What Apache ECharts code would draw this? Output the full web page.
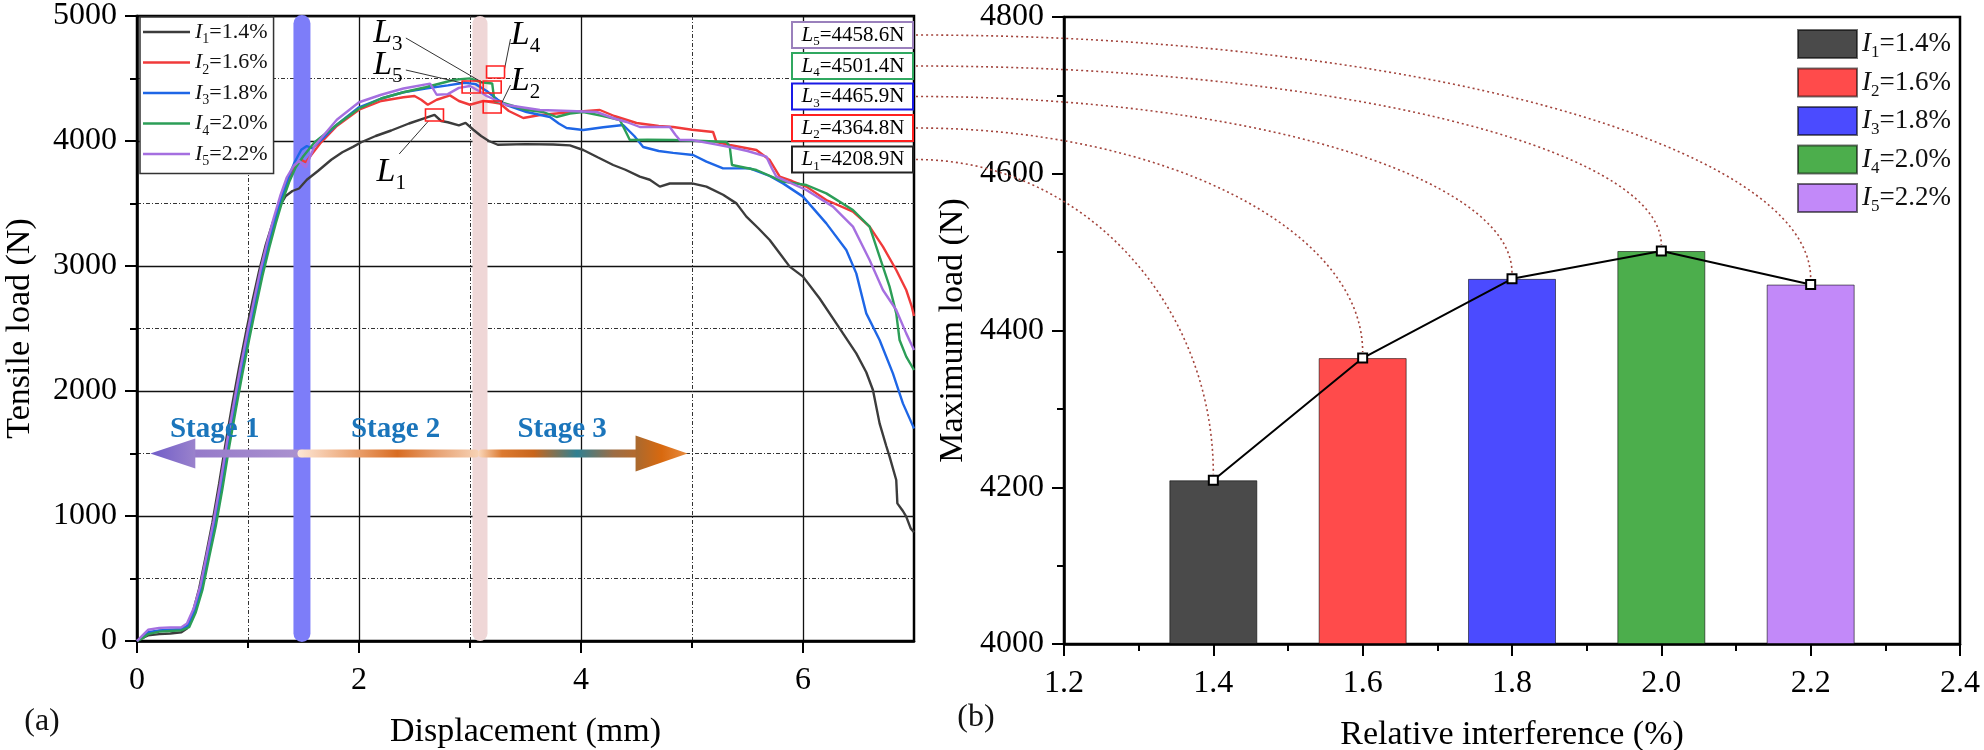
<!DOCTYPE html>
<html><head><meta charset="utf-8">
<script src="https://cdn.jsdelivr.net/npm/echarts/dist/echarts.min.js"></script>
<style>html,body{margin:0;padding:0;background:#fff}#c{width:1984px;height:750px}</style>
</head><body><div id="c"></div><script>
// ---------- DATA ----------
// (a) tensile curves: [displacement mm, load N]
const curveI1 = [[0,0],[0.05,25],[0.1,45],[0.2,55],[0.3,60],[0.4,70],[0.45,100],[0.5,220],[0.56,420],[0.62,680],[0.68,950],[0.74,1260],[0.8,1590],[0.86,1900],[0.92,2190],[0.98,2460],[1.04,2720],[1.1,2960],[1.16,3170],[1.22,3340],[1.28,3470],[1.34,3560],[1.4,3600],[1.46,3620],[1.53,3690],[1.63,3760],[1.75,3850],[1.85,3910],[1.95,3955],[2.02,3990],[2.15,4040],[2.29,4084],[2.45,4140],[2.6,4185],[2.68,4209],[2.74,4160],[2.8,4150],[2.9,4125],[2.96,4145],[3.03,4090],[3.1,4040],[3.17,4000],[3.25,3970],[3.5,3975],[3.75,3972],[3.9,3965],[4.02,3928],[4.15,3870],[4.29,3808],[4.4,3770],[4.53,3715],[4.62,3690],[4.71,3635],[4.8,3660],[5.0,3661],[5.13,3635],[5.28,3570],[5.4,3501],[5.49,3395],[5.6,3300],[5.7,3208],[5.8,3090],[5.88,2995],[6.0,2915],[6.15,2740],[6.3,2541],[6.48,2301],[6.57,2150],[6.63,2008],[6.69,1741],[6.75,1560],[6.78,1475],[6.84,1288],[6.85,1101],[6.9,1040],[6.93,995],[6.97,901],[7.0,870]];
const curveI2 = [[0,0],[0.05,30],[0.1,65],[0.2,80],[0.3,85],[0.4,90],[0.46,120],[0.52,240],[0.58,420],[0.64,680],[0.7,930],[0.76,1230],[0.82,1560],[0.88,1860],[0.94,2150],[1.0,2420],[1.06,2680],[1.12,2930],[1.18,3150],[1.24,3350],[1.3,3530],[1.36,3680],[1.42,3790],[1.48,3850],[1.52,3830],[1.58,3900],[1.65,3980],[1.8,4120],[2.0,4250],[2.2,4320],[2.4,4350],[2.5,4360],[2.56,4330],[2.62,4290],[2.7,4330],[2.82,4365],[2.9,4320],[3.0,4290],[3.12,4320],[3.2,4310],[3.27,4300],[3.35,4240],[3.48,4184],[3.63,4208],[3.9,4230],[4.17,4248],[4.3,4200],[4.5,4144],[4.7,4120],[4.83,4112],[5.0,4090],[5.19,4072],[5.22,3992],[5.34,3968],[5.58,3928],[5.7,3848],[5.79,3715],[5.9,3680],[6.03,3635],[6.21,3528],[6.45,3435],[6.6,3315],[6.72,3155],[6.84,2968],[6.93,2808],[6.98,2675],[7.0,2600]];
const curveI3 = [[0,0],[0.05,35],[0.1,70],[0.2,85],[0.3,90],[0.4,95],[0.46,125],[0.52,245],[0.58,425],[0.64,690],[0.7,940],[0.76,1240],[0.82,1570],[0.88,1870],[0.94,2160],[1.0,2430],[1.06,2690],[1.12,2940],[1.18,3160],[1.24,3360],[1.3,3540],[1.36,3700],[1.42,3830],[1.48,3930],[1.53,3960],[1.58,3940],[1.65,4000],[1.8,4130],[2.0,4270],[2.2,4340],[2.4,4390],[2.6,4420],[2.8,4445],[2.95,4466],[3.05,4455],[3.15,4400],[3.25,4330],[3.33,4288],[3.51,4232],[3.72,4192],[3.8,4140],[3.87,4104],[4.02,4088],[4.2,4110],[4.38,4128],[4.48,4040],[4.56,3952],[4.7,3920],[4.83,3905],[5.01,3888],[5.13,3835],[5.28,3781],[5.52,3781],[5.7,3720],[5.82,3661],[6.0,3555],[6.21,3341],[6.39,3128],[6.48,2941],[6.57,2621],[6.69,2408],[6.81,2141],[6.9,1901],[6.98,1741],[7.0,1700]];
const curveI4 = [[0,0],[0.05,20],[0.1,55],[0.2,75],[0.3,80],[0.4,85],[0.47,110],[0.53,230],[0.59,410],[0.65,670],[0.71,920],[0.77,1220],[0.83,1550],[0.89,1850],[0.95,2140],[1.01,2410],[1.07,2670],[1.13,2920],[1.19,3140],[1.25,3340],[1.31,3520],[1.37,3670],[1.43,3790],[1.5,3880],[1.6,3990],[1.8,4130],[2.0,4260],[2.2,4340],[2.4,4390],[2.6,4430],[2.86,4490],[3.0,4501],[3.1,4470],[3.2,4460],[3.22,4320],[3.27,4312],[3.5,4250],[3.66,4232],[3.78,4192],[3.9,4220],[4.02,4232],[4.2,4200],[4.35,4168],[4.4,4080],[4.44,4008],[4.6,4010],[4.83,4008],[5.1,4000],[5.31,3992],[5.34,3955],[5.36,3808],[5.58,3768],[5.82,3675],[6.03,3648],[6.21,3581],[6.45,3448],[6.6,3315],[6.69,3075],[6.78,2835],[6.84,2621],[6.87,2408],[6.93,2275],[7.0,2168]];
const curveI5 = [[0,0],[0.05,45],[0.1,90],[0.2,105],[0.3,108],[0.4,110],[0.45,140],[0.51,260],[0.57,440],[0.63,700],[0.69,960],[0.75,1260],[0.81,1590],[0.87,1890],[0.93,2180],[0.99,2450],[1.05,2710],[1.11,2960],[1.17,3180],[1.23,3380],[1.29,3560],[1.35,3710],[1.41,3800],[1.46,3840],[1.52,3790],[1.6,3960],[1.8,4170],[2.0,4310],[2.2,4370],[2.4,4420],[2.64,4459],[2.7,4370],[2.8,4375],[2.9,4425],[3.0,4440],[3.08,4400],[3.15,4360],[3.33,4288],[3.63,4248],[3.9,4240],[4.14,4232],[4.3,4180],[4.41,4152],[4.53,4112],[4.8,4112],[4.85,4050],[4.89,4008],[5.0,4008],[5.2,3975],[5.34,3952],[5.5,3920],[5.67,3875],[5.72,3780],[5.76,3715],[6.03,3608],[6.27,3475],[6.45,3315],[6.6,3048],[6.72,2808],[6.84,2648],[6.93,2461],[7.0,2328]];
const curveIdx = ['1','2','3','4','5'];
const interference = [1.4, 1.6, 1.8, 2.0, 2.2];          // %
const interferenceText = ['1.4%','1.6%','1.8%','2.0%','2.2%'];
const maxLoad = [4208.9, 4364.8, 4465.9, 4501.4, 4458.6]; // N
const maxLoadText = ['4208.9N','4364.8N','4465.9N','4501.4N','4458.6N'];
const stageNames = ['Stage 1','Stage 2','Stage 3'];
const xTicksA = [0,2,4,6];
const xMinorA = [1,3,5];

// ---------- STYLE / LAYOUT ----------
const F = 'Liberation Serif';
const lineColors = ['#3c3c3c','#f03a3a','#1e66e6','#2c9e57','#a56fe0'];
const barColors = ['#4a4a4a','#ff4b4b','#4b4bff','#4cae4c','#c289f9'];
const boxBorder = ['#222222','#ff2020','#1a1ae6','#30a860','#9a80bc'];
const bandBlueX = 1.486, bandPinkX = 3.09;
const markBox = [[2.68,4208],[3.2,4272],[3.2,4432],[3.23,4552],[3.01,4432]];   // annotation boxes (mm,N)
const markLabel = [[2.29,3752],[3.5,4480],[2.26,4864],[3.5,4848],[2.26,4608]]; // label centres (mm,N)
const infoBoxN = [3852,4104,4356,4600,4848]; // centre of L1..L5 info boxes (N)
const stagePos = [[0.7,1690],[2.33,1690],[3.83,1690]];

function rich(size, color){
  const lh = Math.round(size*1.3);
  return {
    i:{fontFamily:F, fontStyle:'italic', fontSize:size, color:color, lineHeight:lh, verticalAlign:'middle'},
    s:{fontFamily:F, fontSize:Math.round(size*0.62), color:color, lineHeight:lh, verticalAlign:'bottom'},
    t:{fontFamily:F, fontSize:size, color:color, lineHeight:lh, verticalAlign:'middle'}
  };
}

const chart = echarts.init(document.getElementById('c'));

const series = [];
series.push({type:'line', xAxisIndex:0, yAxisIndex:0, data:[[bandBlueX,60],[bandBlueX,4940]], symbol:'none', silent:true, z:1,
  lineStyle:{color:'#7d7df9', width:17, cap:'round'}});
series.push({type:'line', xAxisIndex:0, yAxisIndex:0, data:[[bandPinkX,60],[bandPinkX,4940]], symbol:'none', silent:true, z:1,
  lineStyle:{color:'#efd7d7', width:15, cap:'round'}});
[curveI1,curveI2,curveI3,curveI4,curveI5].forEach((d,i)=>{
  series.push({name:'A'+i, type:'line', xAxisIndex:0, yAxisIndex:0, data:d, symbol:'none', z:3,
    lineStyle:{color:lineColors[i], width:2.4}, itemStyle:{color:lineColors[i]}});
});
interference.forEach((x,i)=>{
  series.push({name:'B'+i, type:'bar', xAxisIndex:2, yAxisIndex:1, data:[[x,maxLoad[i]]], barWidth:88, barGap:'-100%',
    itemStyle:{color:barColors[i], borderColor:'rgba(0,0,0,0.55)', borderWidth:1}});
});
series.push({type:'line', xAxisIndex:2, yAxisIndex:1, data:interference.map((x,i)=>[x,maxLoad[i]]), z:6,
  symbol:'rect', symbolSize:9, lineStyle:{color:'#000', width:2},
  itemStyle:{color:'#fff', borderColor:'#000', borderWidth:2}});

const numRich = {a:{fontFamily:F, fontSize:32, color:'#000'}};
const baseLbl = {fontFamily:F, fontSize:32, color:'#000', rich:numRich};
const lblX = Object.assign({margin:24, formatter:v=>'{a|'+v+'}'}, baseLbl);
const lblY = Object.assign({margin:20, formatter:v=>'{a|'+v+'}'}, baseLbl);
const nameSty = {fontFamily:F, fontSize:34, color:'#000'};

const option = {
  animation:false,
  backgroundColor:'#fff',
  textStyle:{fontFamily:F},
  grid:[
    {left:137, top:16, width:777, height:625, show:true, borderColor:'#000', borderWidth:2.5, backgroundColor:'rgba(0,0,0,0)', outerBoundsMode:'none', containLabel:false},
    {left:1064, top:17, width:896, height:627, show:true, borderColor:'#000', borderWidth:2.5, backgroundColor:'rgba(0,0,0,0)', outerBoundsMode:'none', containLabel:false}
  ],
  xAxis:[
    {type:'value', gridIndex:0, min:0, max:7, interval:2, position:'bottom',
     name:'Displacement (mm)', nameLocation:'middle', nameGap:74, nameTextStyle:nameSty,
     axisLine:{onZero:false, lineStyle:{color:'#000', width:2.5}},
     axisTick:{length:12, customValues:xTicksA, lineStyle:{color:'#000', width:2}},
     axisLabel:Object.assign({customValues:xTicksA}, lblX),
     splitLine:{show:true, lineStyle:{color:'#111', width:1.3}}},
    {type:'value', gridIndex:0, min:0, max:7, interval:1, position:'bottom',
     axisLine:{show:false, onZero:false},
     axisTick:{length:7, customValues:xMinorA, lineStyle:{color:'#000', width:2}},
     axisLabel:{show:false},
     splitLine:{show:true, lineStyle:{color:'#333', width:1, type:[4,2,1,2]}}},
    {type:'value', gridIndex:1, min:1.2, max:2.4, interval:0.2, position:'bottom',
     name:'Relative interference (%)', nameLocation:'middle', nameGap:74, nameTextStyle:nameSty,
     axisLine:{onZero:false, lineStyle:{color:'#000', width:2.5}},
     axisTick:{length:12, lineStyle:{color:'#000', width:2}},
     minorTick:{show:true, splitNumber:2, length:7, lineStyle:{color:'#000', width:2}},
     axisLabel:Object.assign({margin:24, formatter:v=>'{a|'+v.toFixed(1)+'}'}, baseLbl),
     splitLine:{show:false}}
  ],
  yAxis:[
    {type:'value', gridIndex:0, min:0, max:5000, interval:1000,
     name:'Tensile load (N)', nameLocation:'middle', nameGap:100, nameTextStyle:nameSty,
     axisLine:{onZero:false, lineStyle:{color:'#000', width:2.5}},
     axisTick:{length:12, lineStyle:{color:'#000', width:2}},
     minorTick:{show:true, splitNumber:2, length:7, lineStyle:{color:'#000', width:2}},
     axisLabel:lblY,
     splitLine:{show:true, lineStyle:{color:'#111', width:1.3}},
     minorSplitLine:{show:true, lineStyle:{color:'#333', width:1, type:[4,2,1,2]}}},
    {type:'value', gridIndex:1, min:4000, max:4800, interval:200, startValue:4000,
     name:'Maximum load (N)', nameLocation:'middle', nameGap:94, nameTextStyle:nameSty,
     axisLine:{onZero:false, lineStyle:{color:'#000', width:2.5}},
     axisTick:{length:12, lineStyle:{color:'#000', width:2}},
     minorTick:{show:true, splitNumber:2, length:7, lineStyle:{color:'#000', width:2}},
     axisLabel:Object.assign({margin:20, formatter:v=>'{a|'+v+'}'}, baseLbl),
     splitLine:{show:false}}
  ],
  legend:[
    {orient:'vertical', left:140, top:17, data:curveIdx.map((c,i)=>'A'+i), selectedMode:false,
     icon:'rect', itemWidth:47, itemHeight:2.5, itemGap:5, padding:[4,6,5,3],
     borderColor:'#333', borderWidth:1.5, backgroundColor:'#fff',
     formatter:n=>{const i=+n.slice(1);return '{i|I}{s|'+curveIdx[i]+'}{t|='+interferenceText[i]+'}';},
     textStyle:{rich:rich(22,'#111')}},
    {orient:'vertical', left:1797, top:29, data:curveIdx.map((c,i)=>'B'+i), selectedMode:false, icon:'rect',
     itemWidth:59, itemHeight:28, itemGap:6, padding:0,
     formatter:n=>{const i=+n.slice(1);return '{i|I}{s|'+curveIdx[i]+'}{t|='+interferenceText[i]+'}';},
     textStyle:{rich:rich(27,'#111')}}
  ],
  series:series
};
chart.setOption(option);

// ---------- annotations (positions from the axes) ----------
const px0 = (x,y)=>chart.convertToPixel({xAxisIndex:0, yAxisIndex:0}, [x,y]);
const px1 = (x,y)=>chart.convertToPixel({xAxisIndex:2, yAxisIndex:1}, [x,y]);
const G = [];

// stage arrow at 1500 N
const yA = px0(0,1500)[1];
const xTipL = px0(0.12,0)[0], x15 = px0(1.5,0)[0], x31 = px0(3.1,0)[0], xTipR = px0(4.96,0)[0];
const lg = (stops)=>new echarts.graphic.LinearGradient(0,0,1,0, stops.map((c)=>({offset:c[0], color:c[1]})));
G.push({type:'rect', z:20, shape:{x:xTipL+40, y:yA-4, width:x15-xTipL-40, height:8},
  style:{fill:lg([[0,'#9479c9'],[1,'#ab92cf']])}});
G.push({type:'polygon', z:21, shape:{points:[[xTipL,yA],[xTipL+45,yA-15],[xTipL+45,yA+15]]},
  style:{fill:lg([[0,'#6f5cc8'],[1,'#9a82cc']])}});
G.push({type:'rect', z:21, shape:{x:x15-6, y:yA-4, width:x31-x15+4, height:8, r:4},
  style:{fill:lg([[0,'#fde7d6'],[0.3,'#eca676'],[0.55,'#d86c22'],[0.78,'#e8a476'],[1,'#f7d3b6']])}});
G.push({type:'rect', z:21, shape:{x:x31-3, y:yA-4, width:(xTipR-52)-(x31-3)+2, height:8, r:[4,0,0,4]},
  style:{fill:lg([[0,'#fbd9bd'],[0.15,'#dc7a30'],[0.35,'#c8651c'],[0.62,'#2f8092'],[0.85,'#9c6d45'],[1,'#b56a2c']])}});
G.push({type:'polygon', z:21, shape:{points:[[xTipR,yA],[xTipR-52,yA-18],[xTipR-52,yA+18]]},
  style:{fill:lg([[0,'#a9692f'],[0.5,'#d8690f'],[1,'#e88c40']])}});
stageNames.forEach((s,i)=>{
  const p = px0(stagePos[i][0], stagePos[i][1]);
  G.push({type:'text', z:22, x:p[0], y:p[1], style:{text:s, fill:'#1b75bb', font:'bold 29px "Liberation Serif"', align:'center', verticalAlign:'middle'}});
});

// red markers + labels + leader lines
const richRed = rich(34,'#ff1a1a');
markBox.forEach((b,i)=>{
  const c = px0(b[0],b[1]);
  G.push({type:'rect', z:25, shape:{x:c[0]-9, y:c[1]-6, width:18, height:12}, style:{fill:'none', stroke:'#ff2020', lineWidth:1.6}});
  const l = px0(markLabel[i][0], markLabel[i][1]);
  G.push({type:'text', z:25, x:l[0], y:l[1], style:{text:'{i|L}{s|'+curveIdx[i]+'}', rich:richRed, align:'center', verticalAlign:'middle'}});
  let a, e;
  if (i===0){ a=[l[0]+8, l[1]-18]; e=[c[0]-6, c[1]+6]; }
  else if (i===1 || i===3){ a=[l[0]-15, l[1]+4]; e=[c[0]+9, c[1]-3]; }
  else { a=[l[0]+18, l[1]+5]; e=[c[0]-9, c[1]-4]; }
  G.push({type:'line', z:24, shape:{x1:a[0], y1:a[1], x2:e[0], y2:e[1]}, style:{stroke:'#333', lineWidth:1}});
});

// info boxes on the right edge of (a) + dotted connectors to (b)
const xRight = px0(7,0)[0];
const richBox = rich(21,'#111');
maxLoad.forEach((v,i)=>{
  const yc = px0(0, infoBoxN[i])[1];
  G.push({type:'rect', z:26, shape:{x:xRight-122, y:yc-13, width:121, height:26},
    style:{fill:'#fff', stroke:boxBorder[i], lineWidth:2}});
  G.push({type:'text', z:27, x:xRight-61, y:yc, style:{text:'{i|L}{s|'+curveIdx[i]+'}{t|='+maxLoadText[i]+'}', rich:richBox, align:'center', verticalAlign:'middle'}});
  const m = px1(interference[i], v);
  const x0 = xRight+2, y0 = yc, x1 = m[0], y1 = m[1]-6;
  G.push({type:'bezierCurve', z:5, shape:{x1:x0, y1:y0, x2:x1, y2:y1,
      cpx1:x0+0.55*(x1-x0), cpy1:y0, cpx2:x1, cpy2:y1-0.55*(y1-y0)},
    style:{fill:'none', stroke:'#a3443c', lineWidth:1.6, lineDash:[2,3]}});
});

// panel tags
G.push({type:'text', z:30, x:42, y:722, style:{text:'(a)', font:'32px "Liberation Serif"', fill:'#111', align:'center', verticalAlign:'middle'}});
G.push({type:'text', z:30, x:976, y:718, style:{text:'(b)', font:'32px "Liberation Serif"', fill:'#111', align:'center', verticalAlign:'middle'}});

chart.setOption({graphic:G});
</script></body></html>
